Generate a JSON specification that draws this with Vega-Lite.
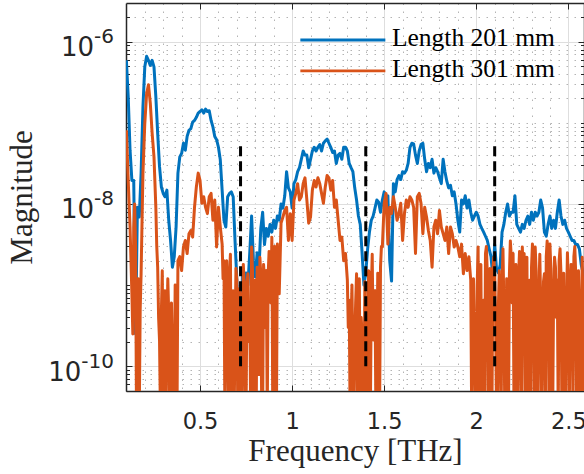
{
  "$schema": "https://vega.github.io/schema/vega-lite/v6.json",
  "width": 458,
  "height": 388,
  "autosize": {"type": "none"},
  "padding": {"left": 126, "top": 3, "right": 0, "bottom": 83},
  "background": "white",
  "config": {
    "view": {"stroke": null},
    "axis": {"labelFlush": false, "labelOverlap": false, "zindex": 0, "labelLimit": 300}
  },
  "datasets": {
    "spectra": [
      {"f":0.10,"a":5.9e-7,"b":8.1e-8},{"f":0.11,"a":2.1e-7,"b":1.95e-8},{"f":0.12,"a":4.6e-8,"b":5.2e-9},{"f":0.13,"a":1.95e-8,"b":7.8e-10},{"f":0.14,"a":1.95e-8,"b":5.2e-9},
      {"f":0.15,"a":2.5e-10,"b":2.95e-9},{"f":0.16,"a":9.1e-9,"b":2.1e-10},{"f":0.17,"a":6.9e-9,"b":2.5e-11},{"f":0.18,"a":2.4e-8,"b":1.38e-9},{"f":0.19,"a":1.58e-7,"b":2.4e-8},
      {"f":0.20,"a":4.9e-7,"b":9.8e-8},{"f":0.21,"a":6.6e-7,"b":2.3e-7},{"f":0.22,"a":5.9e-7,"b":2.95e-7},{"f":0.23,"a":5.1e-7,"b":1.74e-7},{"f":0.24,"a":5.9e-7,"b":7.4e-8},
      {"f":0.25,"a":4.9e-7,"b":3.8e-8},{"f":0.26,"a":2.1e-7,"b":9.1e-9},{"f":0.27,"a":7.4e-8,"b":1.66e-9},{"f":0.28,"a":2.9e-8,"b":2.1e-10},{"f":0.29,"a":1.62e-8,"b":4.5e-10},
      {"f":0.30,"a":1.35e-8,"b":2.5e-11},{"f":0.31,"a":1.23e-8,"b":8.5e-10},{"f":0.32,"a":1.48e-8,"b":2.5e-10},{"f":0.33,"a":6.3e-9,"b":4.5e-10},{"f":0.34,"a":3.55e-9,"b":2.5e-11},
      {"f":0.35,"a":1.66e-9,"b":1.29e-10},{"f":0.36,"a":2.24e-9,"b":3.2e-11},{"f":0.37,"a":5.2e-9,"b":5.4e-10},{"f":0.38,"a":2.4e-8,"b":2.0e-9},{"f":0.39,"a":3.8e-8,"b":2.24e-9},
      {"f":0.40,"a":4.2e-8,"b":1.51e-9},{"f":0.41,"a":5.6e-8,"b":2.95e-9},{"f":0.42,"a":4.6e-8,"b":3.55e-9},{"f":0.43,"a":6.8e-8,"b":2.45e-9},{"f":0.44,"a":8.1e-8,"b":4.3e-9},
      {"f":0.45,"a":8.5e-8,"b":4.7e-9},{"f":0.46,"a":1.02e-7,"b":3.9e-9},{"f":0.47,"a":1.07e-7,"b":9.1e-9},{"f":0.48,"a":1.17e-7,"b":1.62e-8},{"f":0.49,"a":1.32e-7,"b":2.4e-8},
      {"f":0.50,"a":1.38e-7,"b":1.95e-8},{"f":0.51,"a":1.45e-7,"b":1.02e-8},{"f":0.52,"a":1.32e-7,"b":1.23e-8},{"f":0.53,"a":1.48e-7,"b":9.1e-9},{"f":0.54,"a":1.38e-7,"b":7.6e-9},
      {"f":0.55,"a":1.41e-7,"b":1.23e-8},{"f":0.56,"a":1.07e-7,"b":1.35e-8},{"f":0.57,"a":8.9e-8,"b":6.3e-9},{"f":0.58,"a":6.8e-8,"b":1.12e-8},{"f":0.59,"a":6.2e-8,"b":2.95e-9},
      {"f":0.60,"a":5.0e-8,"b":9.1e-9},{"f":0.61,"a":3.5e-8,"b":5.2e-9},{"f":0.62,"a":1.48e-8,"b":3.2e-9},{"f":0.63,"a":6.3e-9,"b":2.0e-9},{"f":0.64,"a":5.2e-9,"b":6.5e-10},
      {"f":0.65,"a":1.23e-8,"b":2.1e-10},{"f":0.66,"a":1.35e-8,"b":1.38e-9},{"f":0.67,"a":1.41e-8,"b":2.5e-11},{"f":0.68,"a":1.23e-8,"b":8.5e-10},{"f":0.69,"a":3.55e-9,"b":2.1e-10},
      {"f":0.70,"a":1.15e-9,"b":1.15e-9},{"f":0.71,"a":3.3e-10,"b":2.5e-11},{"f":0.72,"a":1.0e-10,"b":6.5e-10},{"f":0.73,"a":1.26e-9,"b":1.29e-10},{"f":0.74,"a":3.2e-10,"b":9.5e-10},
      {"f":0.75,"a":1.41e-9,"b":2.5e-11},{"f":0.76,"a":1.0e-9,"b":1.38e-9},{"f":0.77,"a":2.5e-9,"b":5.4e-10},{"f":0.78,"a":7.1e-9,"b":2.95e-9},{"f":0.79,"a":2.0e-9,"b":2.5e-11},
      {"f":0.80,"a":1.26e-9,"b":1.15e-9},{"f":0.81,"a":2.5e-9,"b":1.66e-9},{"f":0.82,"a":1.58e-9,"b":7.9e-11},{"f":0.83,"a":5.0e-9,"b":1.38e-9},{"f":0.84,"a":7.9e-9,"b":2.5e-11},
      {"f":0.85,"a":3.16e-9,"b":1.15e-9},{"f":0.86,"a":5.0e-9,"b":1.51e-9},{"f":0.87,"a":4.0e-9,"b":1.38e-9},{"f":0.88,"a":5.6e-9,"b":2.45e-9},{"f":0.89,"a":4.5e-9,"b":3.9e-9},
      {"f":0.90,"a":6.3e-9,"b":2.5e-11},{"f":0.91,"a":5.0e-9,"b":1.66e-9},{"f":0.92,"a":7.1e-9,"b":3.2e-9},{"f":0.93,"a":6.3e-9,"b":7.8e-10},{"f":0.94,"a":1.0e-8,"b":5.8e-9},
      {"f":0.95,"a":8.9e-9,"b":6.9e-9},{"f":0.96,"a":1.26e-8,"b":8.3e-9},{"f":0.97,"a":2.5e-8,"b":9.1e-9},{"f":0.98,"a":1.58e-8,"b":3.55e-9},{"f":0.99,"a":1.41e-8,"b":7.6e-9},
      {"f":1.00,"a":8.9e-9,"b":3.55e-9},{"f":1.01,"a":1.78e-8,"b":1.12e-8},{"f":1.02,"a":2.0e-8,"b":1.35e-8},{"f":1.03,"a":2.5e-8,"b":1.78e-8},{"f":1.04,"a":2.8e-8,"b":1.12e-8},
      {"f":1.05,"a":3.55e-8,"b":1.23e-8},{"f":1.06,"a":4.5e-8,"b":1.78e-8},{"f":1.07,"a":4.0e-8,"b":2.1e-8},{"f":1.08,"a":4.0e-8,"b":1.12e-8},{"f":1.09,"a":2.8e-8,"b":5.8e-9},
      {"f":1.10,"a":3.55e-8,"b":6.9e-9},{"f":1.11,"a":4.5e-8,"b":1.48e-8},{"f":1.12,"a":5.0e-8,"b":1.95e-8},{"f":1.13,"a":4.5e-8,"b":1.62e-8},{"f":1.14,"a":5.0e-8,"b":2.1e-8},
      {"f":1.15,"a":5.4e-8,"b":1.78e-8},{"f":1.16,"a":4.5e-8,"b":1.35e-8},{"f":1.17,"a":5.6e-8,"b":1.02e-8},{"f":1.18,"a":6.0e-8,"b":1.62e-8},{"f":1.19,"a":6.3e-8,"b":2.24e-8},
      {"f":1.20,"a":5.6e-8,"b":2.1e-8},{"f":1.21,"a":5.0e-8,"b":1.48e-8},{"f":1.22,"a":4.3e-8,"b":1.95e-8},{"f":1.23,"a":4.5e-8,"b":9.1e-9},{"f":1.24,"a":3.16e-8,"b":1.12e-8},
      {"f":1.25,"a":4.0e-8,"b":6.3e-9},{"f":1.26,"a":4.2e-8,"b":3.55e-9},{"f":1.27,"a":3.55e-8,"b":3.9e-9},{"f":1.28,"a":5.0e-8,"b":2.0e-9},{"f":1.29,"a":5.0e-8,"b":2.45e-9},
      {"f":1.30,"a":4.5e-8,"b":1.15e-9},{"f":1.31,"a":3.16e-8,"b":6.5e-10},{"f":1.32,"a":2.8e-8,"b":3.3e-10},{"f":1.33,"a":2.5e-8,"b":1.17e-10},{"f":1.34,"a":1.58e-8,"b":2.1e-10},
      {"f":1.35,"a":1.12e-8,"b":1.38e-9},{"f":1.36,"a":7.1e-9,"b":2.1e-10},{"f":1.37,"a":5.6e-9,"b":2.5e-11},{"f":1.38,"a":2.5e-9,"b":2.5e-10},{"f":1.39,"a":1.0e-9,"b":2.5e-11},
      {"f":1.40,"a":1.41e-9,"b":4.5e-10},{"f":1.41,"a":2.8e-9,"b":2.5e-11},{"f":1.42,"a":4.5e-9,"b":1.38e-9},{"f":1.43,"a":6.3e-9,"b":7.8e-10},{"f":1.44,"a":7.1e-9,"b":2.1e-10},
      {"f":1.45,"a":8.9e-9,"b":8.5e-10},{"f":1.46,"a":1.12e-8,"b":7.9e-11},{"f":1.47,"a":1.05e-8,"b":4.5e-10},{"f":1.48,"a":7.9e-9,"b":1.66e-9},{"f":1.49,"a":1.12e-8,"b":2.95e-9},
      {"f":1.50,"a":1.41e-8,"b":1.02e-8},{"f":1.51,"a":1.12e-8,"b":1.35e-8},{"f":1.52,"a":1.26e-8,"b":3.2e-9},{"f":1.53,"a":2.0e-9,"b":9.1e-9},{"f":1.54,"a":1.12e-9,"b":7.6e-9},
      {"f":1.55,"a":1.78e-8,"b":1.23e-8},{"f":1.56,"a":1.41e-8,"b":9.1e-9},{"f":1.57,"a":2.0e-8,"b":6.3e-9},{"f":1.58,"a":2.24e-8,"b":7.6e-9},{"f":1.59,"a":2.0e-8,"b":1.02e-8},
      {"f":1.60,"a":2.5e-8,"b":3.55e-9},{"f":1.61,"a":2.4e-8,"b":7.6e-9},{"f":1.62,"a":2.6e-8,"b":1.12e-8},{"f":1.63,"a":3.16e-8,"b":9.1e-9},{"f":1.64,"a":5.0e-8,"b":1.23e-8},
      {"f":1.65,"a":5.6e-8,"b":1.12e-8},{"f":1.66,"a":5.5e-8,"b":9.1e-9},{"f":1.67,"a":4.0e-8,"b":2.45e-9},{"f":1.68,"a":3.16e-8,"b":1.23e-8},{"f":1.69,"a":4.5e-8,"b":1.35e-8},
      {"f":1.70,"a":5.4e-8,"b":1.02e-8},{"f":1.71,"a":5.6e-8,"b":4.3e-9},{"f":1.72,"a":3.55e-8,"b":9.1e-9},{"f":1.73,"a":2.5e-8,"b":6.9e-9},{"f":1.74,"a":3.16e-8,"b":4.7e-9},
      {"f":1.75,"a":2.8e-8,"b":3.55e-9},{"f":1.76,"a":3.55e-8,"b":1.66e-9},{"f":1.77,"a":2.4e-8,"b":5.2e-9},{"f":1.78,"a":2.8e-8,"b":6.3e-9},{"f":1.79,"a":2.5e-8,"b":4.3e-9},
      {"f":1.80,"a":2.1e-8,"b":8.3e-9},{"f":1.81,"a":1.78e-8,"b":5.2e-9},{"f":1.82,"a":3.55e-8,"b":4.3e-9},{"f":1.83,"a":2.5e-8,"b":3.55e-9},{"f":1.84,"a":1.91e-8,"b":5.2e-9},
      {"f":1.85,"a":1.58e-8,"b":2.45e-9},{"f":1.86,"a":1.7e-8,"b":5.2e-9},{"f":1.87,"a":1.26e-8,"b":4.3e-9},{"f":1.88,"a":1.41e-8,"b":2.95e-9},{"f":1.89,"a":1.0e-8,"b":3.55e-9},
      {"f":1.90,"a":6.3e-9,"b":2.95e-9},{"f":1.91,"a":4.5e-9,"b":2.24e-9},{"f":1.92,"a":1.12e-8,"b":3.2e-9},{"f":1.93,"a":1.0e-8,"b":1.38e-9},{"f":1.94,"a":1.26e-8,"b":2.45e-9},
      {"f":1.95,"a":8.9e-9,"b":1.51e-9},{"f":1.96,"a":1.12e-8,"b":2.24e-9},{"f":1.97,"a":7.9e-9,"b":1.15e-9},{"f":1.98,"a":6.3e-9,"b":3.3e-10},{"f":1.99,"a":7.1e-9,"b":2.1e-10},
      {"f":2.00,"a":7.9e-9,"b":2.5e-11},{"f":2.01,"a":7.1e-9,"b":2.95e-9},{"f":2.02,"a":5.6e-9,"b":2.1e-10},{"f":2.03,"a":5.0e-9,"b":2.5e-11},{"f":2.04,"a":4.5e-9,"b":6.5e-10},
      {"f":2.05,"a":4.0e-9,"b":2.45e-9},{"f":2.06,"a":3.55e-9,"b":1.38e-9},{"f":2.07,"a":2.8e-9,"b":2.5e-11},{"f":2.08,"a":2.24e-9,"b":3.3e-10},{"f":2.09,"a":1.26e-9,"b":1.51e-9},
      {"f":2.10,"a":3.16e-9,"b":1.38e-9},{"f":2.11,"a":1.58e-9,"b":2.5e-11},{"f":2.12,"a":1.41e-9,"b":5.4e-10},{"f":2.13,"a":1.78e-9,"b":2.1e-10},{"f":2.14,"a":4.5e-9,"b":9.5e-10},
      {"f":2.15,"a":5.6e-9,"b":5.4e-10},{"f":2.16,"a":7.9e-9,"b":2.5e-11},{"f":2.17,"a":1.0e-8,"b":3.3e-10},{"f":2.18,"a":7.1e-9,"b":1.38e-9},{"f":2.19,"a":7.9e-9,"b":2.24e-9},
      {"f":2.20,"a":7.9e-9,"b":2.45e-9},{"f":2.21,"a":1.26e-8,"b":2.5e-11},{"f":2.22,"a":5.6e-9,"b":5.4e-10},{"f":2.23,"a":5.0e-9,"b":1.38e-9},{"f":2.24,"a":4.5e-9,"b":2.1e-10},
      {"f":2.25,"a":5.6e-9,"b":2.95e-9},{"f":2.26,"a":5.0e-9,"b":2.45e-9},{"f":2.27,"a":6.3e-9,"b":5.4e-10},{"f":2.28,"a":7.1e-9,"b":2.5e-11},{"f":2.29,"a":5.6e-9,"b":1.15e-9},
      {"f":2.30,"a":7.9e-9,"b":1.66e-9},{"f":2.31,"a":6.3e-9,"b":1.38e-9},{"f":2.32,"a":7.9e-9,"b":2.95e-9},{"f":2.33,"a":7.1e-9,"b":2.5e-11},{"f":2.34,"a":7.9e-9,"b":8.5e-10},
      {"f":2.35,"a":1.12e-8,"b":5.4e-10},{"f":2.36,"a":8.9e-9,"b":2.1e-10},{"f":2.37,"a":4.5e-9,"b":1.38e-9},{"f":2.38,"a":4.0e-9,"b":2.24e-9},{"f":2.39,"a":5.6e-9,"b":1.38e-9},
      {"f":2.40,"a":7.1e-9,"b":3.2e-9},{"f":2.41,"a":5.0e-9,"b":2.5e-11},{"f":2.42,"a":6.3e-9,"b":8.5e-10},{"f":2.43,"a":5.0e-9,"b":1.66e-9},{"f":2.44,"a":7.9e-9,"b":1.15e-9},
      {"f":2.45,"a":1.12e-8,"b":2.0e-9},{"f":2.46,"a":7.1e-9,"b":1.38e-9},{"f":2.47,"a":5.6e-9,"b":6.5e-10},{"f":2.48,"a":6.3e-9,"b":2.5e-11},{"f":2.49,"a":5.0e-9,"b":5.4e-10},
      {"f":2.50,"a":4.5e-9,"b":1.05e-9},{"f":2.51,"a":4.0e-9,"b":6.5e-10},{"f":2.52,"a":3.55e-9,"b":1.15e-9},{"f":2.53,"a":3.55e-9,"b":2.24e-9},{"f":2.54,"a":3.16e-9,"b":1.38e-9},
      {"f":2.55,"a":3.16e-9,"b":7.9e-11},{"f":2.56,"a":2.8e-9,"b":5.4e-10},{"f":2.57,"a":1.78e-9,"b":2.5e-11},{"f":2.58,"a":1.41e-9,"b":4.5e-10},{"f":2.59,"a":7.9e-10,"b":5.4e-10},
      {"f":2.60,"a":5.0e-10,"b":2.1e-10},
      {"f":0.125,"b":2.0e-9},{"f":0.135,"b":2.5e-10},{"f":0.145,"b":1.0e-8},{"f":0.155,"b":2.5e-11},{"f":0.165,"b":1.2e-9},{"f":0.175,"b":5e-10},{"f":0.185,"b":6e-9},
      {"f":0.265,"b":3e-9},{"f":0.275,"b":4e-10},{"f":0.285,"b":2.5e-11},{"f":0.295,"b":1.5e-9},{"f":0.305,"b":3e-10},{"f":0.315,"b":2.5e-11},{"f":0.325,"b":1.2e-9},
      {"f":0.335,"b":2.5e-11},{"f":0.345,"b":6e-10},{"f":0.355,"b":2.5e-11},{"f":0.365,"b":1e-9},{"f":0.375,"b":2.5e-11},
      {"f":0.625,"b":1.2e-9},{"f":0.635,"b":2.5e-11},{"f":0.645,"b":2e-9},{"f":0.655,"b":2.5e-11},{"f":0.665,"b":2.4e-9},{"f":0.675,"b":3e-10},{"f":0.685,"b":2.5e-11},
      {"f":0.695,"b":1.6e-9},{"f":0.705,"b":2.5e-11},{"f":0.715,"b":9e-10},{"f":0.725,"b":2.5e-11},{"f":0.735,"b":1.8e-9},{"f":0.745,"b":2.5e-11},{"f":0.755,"b":1.1e-9},
      {"f":0.765,"b":2e-10},{"f":0.775,"b":2.5e-11},{"f":0.785,"b":1.5e-9},{"f":0.795,"b":4e-10},{"f":0.805,"b":2.5e-11},{"f":0.815,"b":8e-10},{"f":0.825,"b":2.2e-9},
      {"f":0.835,"b":2.5e-11},{"f":0.845,"b":1.8e-9},{"f":0.855,"b":3e-10},{"f":0.865,"b":2.5e-11},{"f":0.875,"b":2.6e-9},{"f":0.885,"b":6e-10},{"f":0.895,"b":2.5e-11},
      {"f":0.905,"b":3e-9},{"f":0.915,"b":2.5e-11},{"f":0.925,"b":1.5e-9},
      {"f":1.305,"b":3e-10},{"f":1.315,"b":2.5e-11},{"f":1.325,"b":1e-9},{"f":1.335,"b":2.5e-11},{"f":1.345,"b":6e-10},{"f":1.355,"b":2.5e-11},{"f":1.365,"b":1.2e-9},
      {"f":1.375,"b":4e-10},{"f":1.385,"b":2.5e-11},{"f":1.395,"b":1.1e-9},{"f":1.405,"b":2.5e-11},{"f":1.415,"b":1.5e-9},{"f":1.425,"b":2.5e-11},{"f":1.435,"b":2.4e-9},
      {"f":1.445,"b":5e-10},{"f":1.455,"b":2.5e-11},{"f":1.465,"b":1.4e-9},{"f":1.475,"b":2.5e-11},{"f":1.485,"b":3e-9},
      {"f":1.975,"b":2.5e-11},{"f":1.985,"b":1.2e-9},{"f":1.995,"b":2.5e-11},{"f":2.005,"b":1e-9},{"f":2.015,"b":2.5e-11},{"f":2.025,"b":1.8e-9},{"f":2.035,"b":3e-10},
      {"f":2.045,"b":2.5e-11},{"f":2.055,"b":3e-9},{"f":2.065,"b":2.5e-11},{"f":2.075,"b":1.6e-9},{"f":2.085,"b":2.5e-11},{"f":2.095,"b":2.2e-9},{"f":2.105,"b":4e-10},
      {"f":2.115,"b":2.5e-11},{"f":2.125,"b":1.5e-9},{"f":2.135,"b":2.5e-11},{"f":2.145,"b":2.8e-9},{"f":2.155,"b":2.5e-11},{"f":2.165,"b":1.2e-9},{"f":2.175,"b":2.5e-11},
      {"f":2.185,"b":3.5e-9},{"f":2.195,"b":6e-10},{"f":2.205,"b":2.5e-11},{"f":2.215,"b":1.8e-9},{"f":2.225,"b":2.5e-11},{"f":2.235,"b":2.6e-9},{"f":2.245,"b":2.5e-11},
      {"f":2.255,"b":1.3e-9},{"f":2.265,"b":2.5e-11},{"f":2.275,"b":2.2e-9},{"f":2.285,"b":5e-10},{"f":2.295,"b":2.5e-11},{"f":2.305,"b":3.2e-9},{"f":2.315,"b":2.5e-11},
      {"f":2.325,"b":1.5e-9},{"f":2.335,"b":2.5e-11},{"f":2.345,"b":2.4e-9},{"f":2.355,"b":2.5e-11},{"f":2.365,"b":1.1e-9},{"f":2.375,"b":2.5e-11},{"f":2.385,"b":3.5e-9},
      {"f":2.395,"b":2.5e-11},{"f":2.405,"b":1.6e-9},{"f":2.415,"b":2.5e-11},{"f":2.425,"b":2.2e-9},{"f":2.435,"b":4e-10},{"f":2.445,"b":2.5e-11},{"f":2.455,"b":2.8e-9},
      {"f":2.465,"b":2.5e-11},{"f":2.475,"b":1.4e-9},{"f":2.485,"b":2.5e-11},{"f":2.495,"b":2.5e-9},{"f":2.505,"b":2.5e-11},{"f":2.515,"b":1.8e-9},{"f":2.525,"b":2.5e-11},
      {"f":2.535,"b":3e-9},{"f":2.545,"b":2.5e-11},{"f":2.555,"b":1.5e-9},{"f":2.565,"b":2.5e-11},{"f":2.575,"b":2.2e-9},{"f":2.585,"b":2.5e-11},{"f":2.595,"b":1.2e-9}
    ],
    "cutoffs": [
      {"f":0.72,"lo":1e-10,"hi":5.5e-8},
      {"f":1.40,"lo":1e-10,"hi":5.5e-8},
      {"f":2.10,"lo":1e-10,"hi":5.5e-8}
    ]
  },
  "layer": [
    {
      "data": {"name": "spectra"},
      "transform": [{"fold": ["a", "b"], "as": ["s", "m"]}],
      "mark": {"type": "line", "clip": true, "strokeWidth": 3, "strokeJoin": "round", "invalid": "filter"},
      "encoding": {
        "x": {
          "field": "f", "type": "quantitative",
          "scale": {"domain": [0.098, 2.585], "nice": false, "zero": false},
          "axis": {
            "orient": "bottom", "values": [0.5, 1, 1.5, 2, 2.5], "format": "~g",
            "labelFont": "DejaVu Sans", "labelFontSize": 22.5, "labelColor": "#262626",
            "labelBaseline": "top", "labelPadding": 25,
            "tickSize": -6, "tickColor": "#262626", "tickWidth": 1,
            "domain": true, "domainColor": "#262626", "domainWidth": 1.5,
            "grid": true, "gridColor": "#dedede", "gridWidth": 1,
            "title": "Frequency [THz]", "titleFont": "Liberation Serif", "titleFontSize": 31,
            "titleFontWeight": "normal", "titleColor": "#262626", "titlePadding": 5.8,
            "minExtent": 40, "maxExtent": 40
          }
        },
        "y": {
          "field": "m", "type": "quantitative",
          "scale": {"type": "log", "domain": [4.95e-11, 3e-6], "nice": false},
          "axis": {
            "orient": "left", "values": [1e-10, 1e-8, 1e-6],
            "labelExpr": "datum.value < 1e-9 ? '' : '10'",
            "labelFont": "DejaVu Sans", "labelFontSize": 26, "labelColor": "#262626",
            "labelAlign": "right", "labelBaseline": "middle", "labelPadding": 38.4, "labelOffset": 6,
            "tickSize": -6, "tickColor": "#262626", "tickWidth": 1,
            "domain": true, "domainColor": "#262626", "domainWidth": 1.5,
            "grid": true, "gridColor": "#dedede", "gridWidth": 1,
            "title": "Magnitude", "titleFont": "Liberation Serif", "titleFontSize": 31,
            "titleFontWeight": "normal", "titleColor": "#262626", "titlePadding": 27.5,
            "minExtent": 60, "maxExtent": 60
          }
        },
        "color": {
          "field": "s", "type": "nominal",
          "scale": {"domain": ["a", "b"], "range": ["#0072BD", "#D95319"]},
          "legend": {
            "orient": "none", "legendX": 204.1, "legendY": 22.25, "direction": "vertical",
            "title": null, "padding": 0, "offset": 0,
            "symbolType": "M-8.5,0.4H8.5", "symbolSize": 100, "symbolStrokeWidth": 2.8,
            "labelExpr": "datum.value == 'a' ? 'Length 201 mm' : 'Length 301 mm'",
            "labelFont": "Liberation Serif", "labelFontSize": 25.5, "labelColor": "#000000",
            "labelBaseline": "middle", "labelOffset": 36.35, "labelLimit": 400, "rowPadding": 3.8
          }
        }
      }
    },
    {
      "data": {"name": "cutoffs"},
      "mark": {"type": "rule", "color": "#000000", "strokeWidth": 3, "strokeDash": [10, 5]},
      "encoding": {
        "x": {
          "field": "f", "type": "quantitative",
          "scale": {"domain": [0.098, 2.585], "nice": false, "zero": false},
          "axis": {
            "orient": "bottom", "values": [0.2,0.3,0.4,0.6,0.7,0.8,0.9,1.1,1.2,1.3,1.4,1.6,1.7,1.8,1.9,2.1,2.2,2.3,2.4],
            "labels": false, "ticks": false, "domain": false, "title": null,
            "grid": true, "gridColor": "#b4b4b4", "gridWidth": 1, "gridDash": [1.5, 6.5]
          }
        },
        "y": {
          "field": "lo", "type": "quantitative",
          "scale": {"type": "log", "domain": [4.95e-11, 3e-6], "nice": false},
          "axis": {
            "orient": "left",
            "values": [5e-11,6e-11,7e-11,8e-11,9e-11,2e-10,3e-10,4e-10,5e-10,6e-10,7e-10,8e-10,9e-10,1e-9,2e-9,3e-9,4e-9,5e-9,6e-9,7e-9,8e-9,9e-9,2e-8,3e-8,4e-8,5e-8,6e-8,7e-8,8e-8,9e-8,1e-7,2e-7,3e-7,4e-7,5e-7,6e-7,7e-7,8e-7,9e-7,2e-6],
            "labels": false, "ticks": true, "tickSize": -3.5, "tickColor": "#262626", "tickWidth": 1,
            "domain": false, "title": null,
            "grid": true, "gridColor": "#b4b4b4", "gridWidth": 1, "gridDash": [1.5, 6.5]
          }
        },
        "y2": {"field": "hi"}
      }
    },
    {
      "data": {"name": "cutoffs"},
      "mark": {"type": "point", "opacity": 0},
      "encoding": {
        "x": {
          "field": "f", "type": "quantitative",
          "scale": {"domain": [0.098, 2.585], "nice": false, "zero": false},
          "axis": {
            "orient": "top", "values": [0.5, 1, 1.5, 2, 2.5], "labels": false,
            "tickSize": -6, "tickColor": "#262626", "tickWidth": 1,
            "domain": true, "domainColor": "#262626", "domainWidth": 1.5,
            "grid": false, "title": null
          }
        },
        "y": {
          "field": "lo", "type": "quantitative",
          "scale": {"type": "log", "domain": [4.95e-11, 3e-6], "nice": false},
          "axis": {
            "orient": "left", "values": [1e-10, 1e-8, 1e-6],
            "labelExpr": "datum.value < 1e-9 ? '-10' : datum.value < 1e-7 ? '-8' : '-6'",
            "labelFont": "DejaVu Sans", "labelFontSize": 20, "labelColor": "#262626",
            "labelAlign": "right", "labelBaseline": "middle", "labelPadding": 12.5, "labelOffset": -5.2,
            "ticks": false, "domain": false, "grid": false, "title": null
          }
        }
      }
    },
    {
      "data": {"name": "cutoffs"},
      "mark": {"type": "point", "opacity": 0},
      "encoding": {
        "x": {
          "field": "f", "type": "quantitative",
          "scale": {"domain": [0.098, 2.585], "nice": false, "zero": false},
          "axis": null
        },
        "y": {
          "field": "lo", "type": "quantitative",
          "scale": {"type": "log", "domain": [4.95e-11, 3e-6], "nice": false},
          "axis": {
            "orient": "right", "values": [1e-10, 1e-8, 1e-6], "labels": false,
            "tickSize": -6, "tickColor": "#262626", "tickWidth": 1,
            "domain": true, "domainColor": "#262626", "domainWidth": 1.5,
            "grid": false, "title": null
          }
        }
      }
    },
    {
      "data": {"name": "cutoffs"},
      "mark": {"type": "point", "opacity": 0},
      "encoding": {
        "x": {
          "field": "f", "type": "quantitative",
          "scale": {"domain": [0.098, 2.585], "nice": false, "zero": false},
          "axis": null
        },
        "y": {
          "field": "lo", "type": "quantitative",
          "scale": {"type": "log", "domain": [4.95e-11, 3e-6], "nice": false},
          "axis": {
            "orient": "right",
            "values": [5e-11,6e-11,7e-11,8e-11,9e-11,2e-10,3e-10,4e-10,5e-10,6e-10,7e-10,8e-10,9e-10,1e-9,2e-9,3e-9,4e-9,5e-9,6e-9,7e-9,8e-9,9e-9,2e-8,3e-8,4e-8,5e-8,6e-8,7e-8,8e-8,9e-8,1e-7,2e-7,3e-7,4e-7,5e-7,6e-7,7e-7,8e-7,9e-7,2e-6],
            "labels": false, "tickSize": -3.5, "tickColor": "#262626", "tickWidth": 1,
            "domain": false, "grid": false, "title": null
          }
        }
      }
    },
    {
      "data": {"name": "cutoffs"},
      "mark": {"type": "point", "opacity": 0},
      "encoding": {
        "x": {
          "field": "f", "type": "quantitative",
          "scale": {"domain": [0.098, 2.585], "nice": false, "zero": false},
          "axis": null
        },
        "y": {
          "field": "lo", "type": "quantitative",
          "scale": {"type": "log", "domain": [4.95e-11, 3e-6], "nice": false},
          "axis": {
            "orient": "left", "values": [1e-10], "labelExpr": "'10'",
            "labelFont": "DejaVu Sans", "labelFontSize": 26, "labelColor": "#262626",
            "labelAlign": "right", "labelBaseline": "middle", "labelPadding": 45.1, "labelOffset": 6,
            "ticks": false, "domain": false, "grid": false, "title": null
          }
        }
      }
    }
  ],
  "resolve": {"axis": {"x": "independent", "y": "independent"}}
}
